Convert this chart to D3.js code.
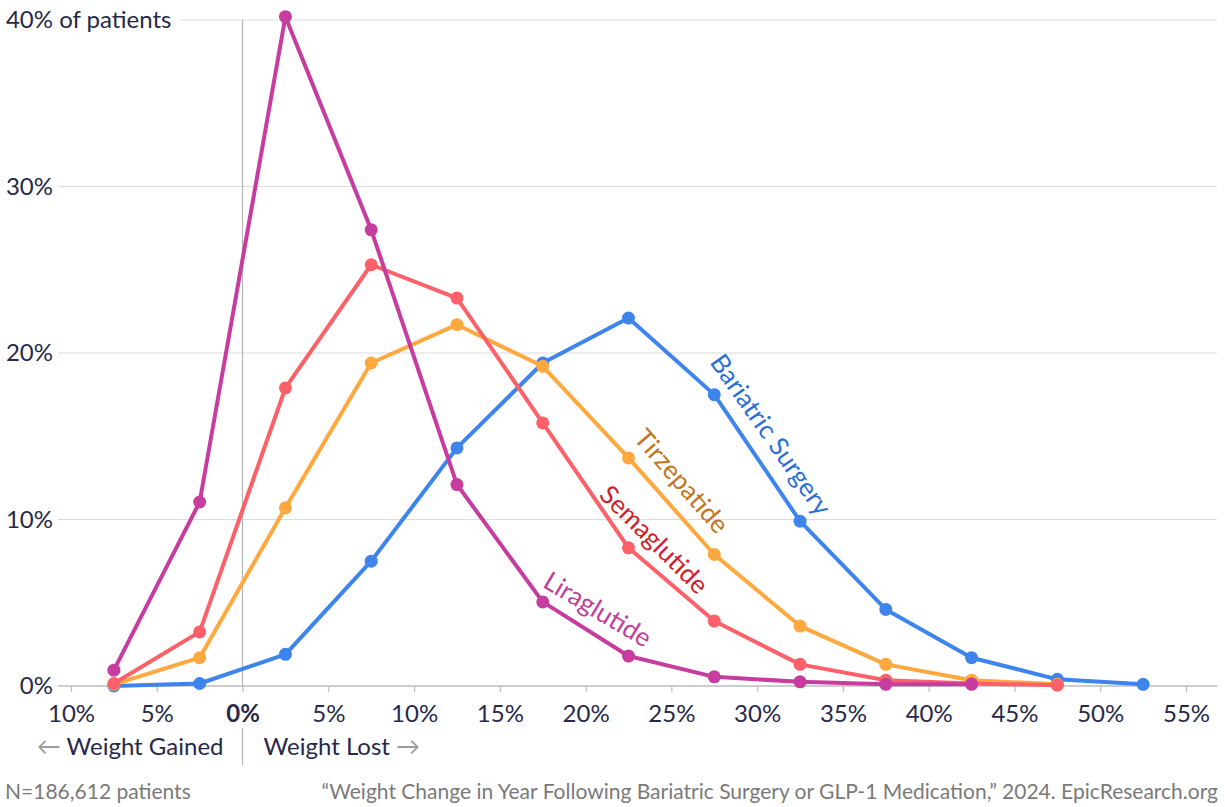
<!DOCTYPE html>
<html>
<head>
<meta charset="utf-8">
<script src="https://cdn.jsdelivr.net/npm/d3@7"></script>
<style>
  body { margin: 0; background: #fff; }
  text { font-family: Lato, "Open Sans", sans-serif; }
</style>
</head>
<body>
<div id="chart"></div>
<script>
const width = 1225;
const height = 807;

// weight change bins (midpoints, negative = gained)
const bins = [-7.5, -2.5, 2.5, 7.5, 12.5, 17.5, 22.5, 27.5, 32.5, 37.5, 42.5, 47.5, 52.5];
const xTicks = [-10, -5, 0, 5, 10, 15, 20, 25, 30, 35, 40, 45, 50, 55];
const yTicks = [0, 10, 20, 30, 40];

const bariatric   = [0.0, 0.15, 1.9, 7.5, 14.3, 19.4, 22.1, 17.5, 9.9, 4.6, 1.7, 0.4, 0.1];
const tirzepatide = [0.1, 1.7, 10.7, 19.4, 21.7, 19.2, 13.7, 7.9, 3.6, 1.3, 0.35, 0.1];
const semaglutide = [0.15, 3.25, 17.9, 25.3, 23.3, 15.8, 8.3, 3.9, 1.3, 0.35, 0.15, 0.05];
const liraglutide = [0.95, 11.05, 40.2, 27.4, 12.1, 5.05, 1.8, 0.55, 0.25, 0.1, 0.1];

// label anchors in data units (x %, y %) and text angle
const labelX = [30.8, 25.6, 24.0, 20.7];
const labelY = [15.1, 12.3, 8.8, 4.6];
const labelAngle = [55, 49, 45, 31];

const series = [
  { name: 'Bariatric Surgery', values: bariatric, color: '#3d85ec', label: '#2d6fd8' },
  { name: 'Tirzepatide', values: tirzepatide, color: '#ffa83e', label: '#c47520' },
  { name: 'Semaglutide', values: semaglutide, color: '#fc616a', label: '#cf1f2a' },
  { name: 'Liraglutide', values: liraglutide, color: '#c73d9f', label: '#c0409a' }
];

const x = d3.scaleLinear().domain([-10, 55]).range([71, 1186]);
const y = d3.scaleLinear().domain([0, 40]).range([686, 20]);

const svg = d3.select('#chart').append('svg')
  .attr('width', width)
  .attr('height', height);

const ink = '#27294a';

// y grid + labels
const yAxis = svg.append('g');
yTicks.forEach(t => {
  const label = yAxis.append('text')
    .attr('x', 53)
    .attr('y', y(t))
    .attr('dy', '0.35em')
    .attr('text-anchor', 'end')
    .attr('font-size', 24)
    .attr('fill', ink)
    .text(t + '%');
  let gx0 = 58;
  if (t === 40) {
    const w = label.node().getComputedTextLength();
    label.attr('text-anchor', 'start').attr('x', 53 - w).text(t + '% of patients');
    gx0 = 53 - w + label.node().getComputedTextLength() + 9;
  }
  yAxis.append('line')
    .attr('x1', gx0).attr('x2', 1217)
    .attr('y1', y(t)).attr('y2', y(t))
    .attr('stroke', t === 0 ? '#bdbdbd' : '#dcdcdc')
    .attr('stroke-width', t === 0 ? 1.5 : 1.2);
});

// zero line
svg.append('line')
  .attr('x1', x(0)).attr('x2', x(0))
  .attr('y1', y(40)).attr('y2', y(0))
  .attr('stroke', '#b5b5b5').attr('stroke-width', 1.2);

// x axis ticks and labels
const xAxis = d3.axisBottom(x)
  .tickValues(xTicks)
  .tickSize(6)
  .tickFormat(d => Math.abs(d) + '%');

const gx = svg.append('g')
  .attr('transform', `translate(0,${y(0)})`)
  .call(xAxis);
gx.select('.domain').remove();
gx.selectAll('.tick line').attr('stroke', '#bdbdbd').attr('stroke-width', 1.2);
gx.selectAll('.tick text')
  .attr('font-family', 'Lato, sans-serif')
  .attr('font-size', 24)
  .attr('fill', ink)
  .attr('y', 36)
  .attr('dy', 0)
  .attr('font-weight', d => d === 0 ? 'bold' : 'normal');

// gained / lost labels
svg.append('line')
  .attr('x1', x(0)).attr('x2', x(0))
  .attr('y1', 728).attr('y2', 765)
  .attr('stroke', '#b5b5b5').attr('stroke-width', 1.2);

const gained = svg.append('text')
  .attr('x', x(0) - 19).attr('y', 755)
  .attr('text-anchor', 'end')
  .attr('font-size', 24)
  .attr('fill', ink);
gained.append('tspan').attr('fill', '#9a9a9a').text('\u2190 ');
gained.append('tspan').text('Weight Gained');

const lost = svg.append('text')
  .attr('x', x(0) + 21).attr('y', 755)
  .attr('font-size', 24)
  .attr('fill', ink);
lost.append('tspan').text('Weight Lost ');
lost.append('tspan').attr('fill', '#9a9a9a').text('\u2192');

// lines and dots
const line = d3.line()
  .x((d, i) => x(bins[i]))
  .y(d => y(d));

series.forEach(s => {
  const g = svg.append('g');
  g.append('path')
    .datum(s.values)
    .attr('d', line)
    .attr('fill', 'none')
    .attr('stroke', s.color)
    .attr('stroke-width', 4)
    .attr('stroke-linejoin', 'round');
  g.selectAll('circle')
    .data(s.values)
    .join('circle')
    .attr('cx', (d, i) => x(bins[i]))
    .attr('cy', d => y(d))
    .attr('r', 6.5)
    .attr('fill', s.color);
});

// rotated series labels
series.forEach((s, i) => {
  svg.append('text')
    .attr('transform', `translate(${x(labelX[i])},${y(labelY[i])}) rotate(${labelAngle[i]})`)
    .attr('text-anchor', 'middle')
    .attr('dy', '0.35em')
    .attr('font-size', 26)
    .attr('fill', s.label)
    .text(s.name);
});

// footer
svg.append('text')
  .attr('x', 5).attr('y', 799)
  .attr('font-size', 21)
  .attr('fill', '#7a7a7a')
  .text('N=186,612 patients');

svg.append('text')
  .attr('x', 1218).attr('y', 799)
  .attr('text-anchor', 'end')
  .attr('font-size', 21)
  .attr('fill', '#7a7a7a')
  .text('\u201CWeight Change in Year Following Bariatric Surgery or GLP-1 Medication,\u201D 2024. EpicResearch.org');
</script>
</body>
</html>
